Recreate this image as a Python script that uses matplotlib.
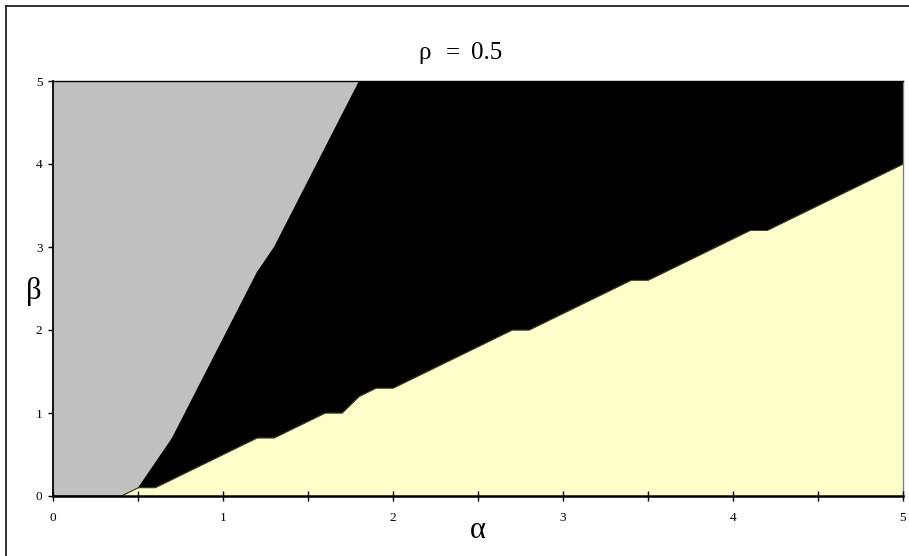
import matplotlib
matplotlib.use("Agg")
import matplotlib.pyplot as plt
from matplotlib.lines import Line2D
import numpy as np

# alpha grid (category values, step 0.1)
alpha = [0.0, 0.1, 0.2, 0.3, 0.4, 0.5, 0.6, 0.7, 0.8, 0.9,
         1.0, 1.1, 1.2, 1.3, 1.4, 1.5, 1.6, 1.7, 1.8, 1.9,
         2.0, 2.1, 2.2, 2.3, 2.4, 2.5, 2.6, 2.7, 2.8, 2.9,
         3.0, 3.1, 3.2, 3.3, 3.4, 3.5, 3.6, 3.7, 3.8, 3.9,
         4.0, 4.1, 4.2, 4.3, 4.4, 4.5, 4.6, 4.7, 4.8, 4.9, 5.0]

# upper boundary of the black region (grey above it)
beta_grey = [0, 0, 0, 0, 0, 0.1, 0.4, 0.7, 1.1, 1.5,
             1.9, 2.3, 2.7, 3.0, 3.4, 3.8, 4.2, 4.6, 5.0, 5.0,
             5, 5, 5, 5, 5, 5, 5, 5, 5, 5,
             5, 5, 5, 5, 5, 5, 5, 5, 5, 5,
             5, 5, 5, 5, 5, 5, 5, 5, 5, 5, 5]

# upper boundary of the yellow region (black above it)
beta_yellow = [0, 0, 0, 0, 0, 0.1, 0.1, 0.2, 0.3, 0.4,
               0.5, 0.6, 0.7, 0.7, 0.8, 0.9, 1.0, 1.0, 1.2, 1.3,
               1.3, 1.4, 1.5, 1.6, 1.7, 1.8, 1.9, 2.0, 2.0, 2.1,
               2.2, 2.3, 2.4, 2.5, 2.6, 2.6, 2.7, 2.8, 2.9, 3.0,
               3.1, 3.2, 3.2, 3.3, 3.4, 3.5, 3.6, 3.7, 3.8, 3.9, 4.0]

x_ticks = [0, 1, 2, 3, 4, 5]
x_minor = [0.5, 1.5, 2.5, 3.5, 4.5]
y_ticks = [0, 1, 2, 3, 4, 5]
title_parts = ["ρ", "=", "0.5"]

a = np.array(alpha)
g = np.array(beta_grey)
yl = np.array(beta_yellow)
top = np.full_like(a, 5.0)

plt.rcParams['font.family'] = ['Liberation Serif', 'DejaVu Serif']

fig = plt.figure(figsize=(9.09, 5.56), dpi=100)
ax = fig.add_axes([53/909, (556-496)/556, (903-53)/909, (496-81)/556])

ax.fill_between(a, g, top, color='#C0C0C0', linewidth=0)
ax.fill_between(a, yl, g, facecolor='black', edgecolor='black', linewidth=1.0)
ax.fill_between(a, 0, yl, facecolor='#FFFFCC', edgecolor='#FFFFCC', linewidth=0)
ax.plot(a, yl, color='#55553a', linewidth=0.5)

ax.set_xlim(0, 5)
ax.set_ylim(0, 5)

ax.set_xticks(x_ticks)
ax.set_xticklabels([str(v) for v in x_ticks])
ax.set_xticks(x_minor, minor=True)
ax.set_yticks(y_ticks)
ax.set_yticklabels([str(v) for v in y_ticks])

ax.tick_params(axis='x', which='both', direction='inout', length=7, width=1,
               labelsize=9.5, pad=8, color='black')
ax.tick_params(axis='y', which='major', direction='out', length=3.6, width=1,
               labelsize=9.5, pad=4, color='black')

ax.spines['left'].set_linewidth(1.3)
ax.spines['bottom'].set_linewidth(1.8)
ax.spines['top'].set_linewidth(1.0)
ax.spines['right'].set_linewidth(1.0)
ax.spines['right'].set_color('#808080')
ax.set_axisbelow(False)

# title "ρ = 0.5" (spaced as in the reference)
title_x = [425, 453, 487]
for txt, xp in zip(title_parts, title_x):
    fig.text(xp/909, 1 - 53/556, txt, ha='center', va='center', fontsize=18)

fig.text(478/909, 1 - 531/556, "α", ha='center', va='center', fontsize=22)
fig.text(34/909, 1 - 291/556, "β", ha='center', va='center', fontsize=22)

# outer chart frame (cropped at right and bottom)
fig.add_artist(Line2D([6/909, 6/909], [0, 1 - 6/556], transform=fig.transFigure,
                      color='#222222', linewidth=1.3))
fig.add_artist(Line2D([6/909, 1], [1 - 6/556, 1 - 6/556], transform=fig.transFigure,
                      color='#222222', linewidth=1.3))

fig.savefig("out.png", dpi=100)
